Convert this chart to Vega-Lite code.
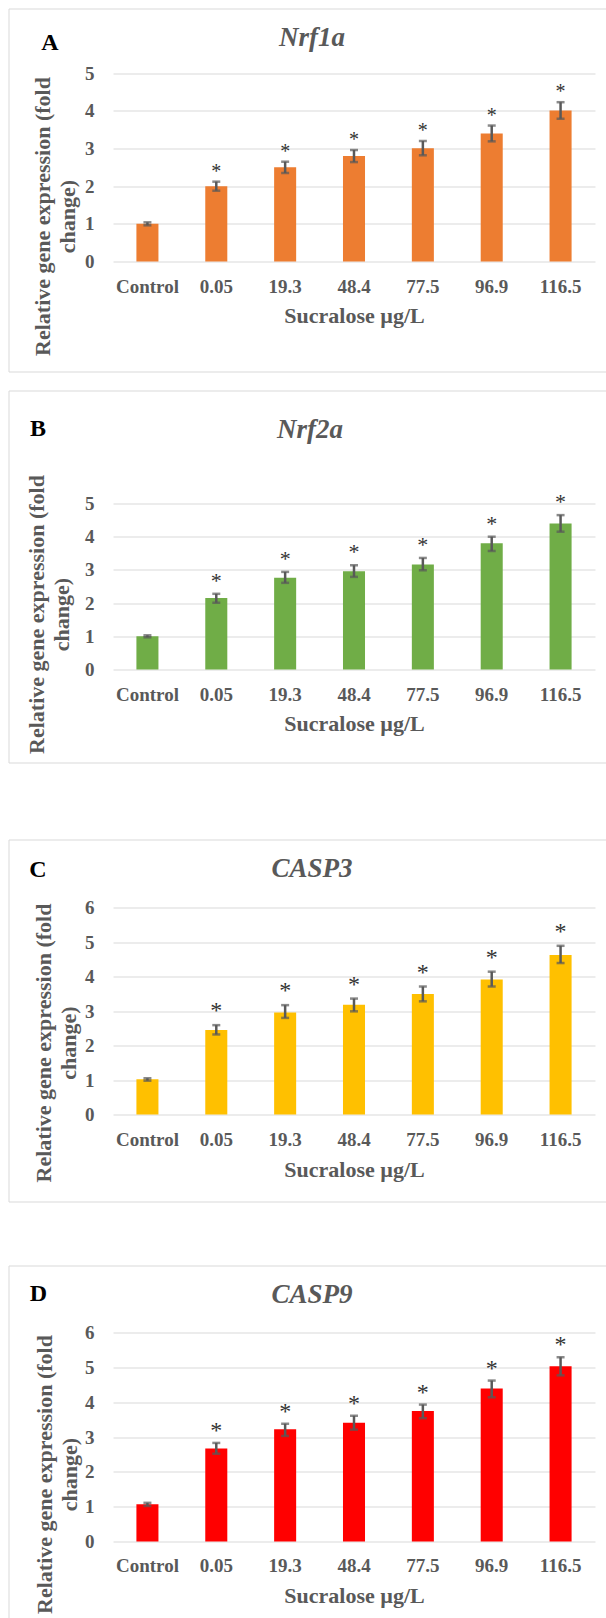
{
  "$schema": "https://vega.github.io/schema/vega-lite/v6.json",
  "background": "white",
  "padding": {"left": 7.5, "top": 7.5, "right": -12.5, "bottom": -14.5},
  "spacing": 75,
  "datasets": {
    "nrf1a": [
      {"conc": "Control", "mean": 1.00, "lo": 0.96, "hi": 1.04, "sig": ""},
      {"conc": "0.05", "mean": 2.00, "lo": 1.88, "hi": 2.12, "sig": "*"},
      {"conc": "19.3", "mean": 2.50, "lo": 2.35, "hi": 2.65, "sig": "*"},
      {"conc": "48.4", "mean": 2.80, "lo": 2.64, "hi": 2.96, "sig": "*"},
      {"conc": "77.5", "mean": 3.01, "lo": 2.82, "hi": 3.20, "sig": "*"},
      {"conc": "96.9", "mean": 3.40, "lo": 3.19, "hi": 3.61, "sig": "*"},
      {"conc": "116.5", "mean": 4.01, "lo": 3.79, "hi": 4.23, "sig": "*"}
    ],
    "nrf2a": [
      {"conc": "Control", "mean": 1.00, "lo": 0.97, "hi": 1.03, "sig": ""},
      {"conc": "0.05", "mean": 2.15, "lo": 2.01, "hi": 2.28, "sig": "*"},
      {"conc": "19.3", "mean": 2.76, "lo": 2.61, "hi": 2.94, "sig": "*"},
      {"conc": "48.4", "mean": 2.96, "lo": 2.79, "hi": 3.14, "sig": "*"},
      {"conc": "77.5", "mean": 3.16, "lo": 2.99, "hi": 3.36, "sig": "*"},
      {"conc": "96.9", "mean": 3.80, "lo": 3.57, "hi": 4.00, "sig": "*"},
      {"conc": "116.5", "mean": 4.40, "lo": 4.15, "hi": 4.65, "sig": "*"}
    ],
    "casp3": [
      {"conc": "Control", "mean": 1.02, "lo": 0.98, "hi": 1.05, "sig": ""},
      {"conc": "0.05", "mean": 2.45, "lo": 2.32, "hi": 2.59, "sig": "*"},
      {"conc": "19.3", "mean": 2.96, "lo": 2.80, "hi": 3.17, "sig": "*"},
      {"conc": "48.4", "mean": 3.18, "lo": 2.99, "hi": 3.36, "sig": "*"},
      {"conc": "77.5", "mean": 3.49, "lo": 3.28, "hi": 3.71, "sig": "*"},
      {"conc": "96.9", "mean": 3.91, "lo": 3.71, "hi": 4.14, "sig": "*"},
      {"conc": "116.5", "mean": 4.62, "lo": 4.39, "hi": 4.89, "sig": "*"}
    ],
    "casp9": [
      {"conc": "Control", "mean": 1.07, "lo": 1.02, "hi": 1.11, "sig": ""},
      {"conc": "0.05", "mean": 2.67, "lo": 2.52, "hi": 2.83, "sig": "*"},
      {"conc": "19.3", "mean": 3.22, "lo": 3.03, "hi": 3.38, "sig": "*"},
      {"conc": "48.4", "mean": 3.41, "lo": 3.21, "hi": 3.61, "sig": "*"},
      {"conc": "77.5", "mean": 3.75, "lo": 3.54, "hi": 3.93, "sig": "*"},
      {"conc": "96.9", "mean": 4.39, "lo": 4.14, "hi": 4.62, "sig": "*"},
      {"conc": "116.5", "mean": 5.03, "lo": 4.77, "hi": 5.29, "sig": "*"}
    ]
  },
  "vconcat": [
    {
      "spacing": 17,
      "vconcat": [
        {
          "width": 610, "height": 363,
          "data": {"name": "nrf1a"},
          "layer": [
            {"mark": {"type": "bar", "color": "#ED7D31"},
             "encoding": {
               "x": {"field": "conc", "type": "nominal", "sort": null, "scale": {"range": [104.5, 586.5], "paddingInner": 0.68, "paddingOuter": 0.34},
                     "axis": {"orient": "bottom", "offset": -110, "title": "Sucralose µg/L", "labelAngle": 0, "labelPadding": 25, "labelBaseline": "middle", "titleY": 54, "titleBaseline": "middle"}},
               "y": {"field": "mean", "type": "quantitative", "scale": {"domain": [0, 5], "range": [253, 64.7], "nice": false},
                     "axis": {"orient": "left", "offset": -104.5, "values": [0, 1, 2, 3, 4, 5], "grid": true, "labelPadding": 19, "title": ["Relative gene expression (fold", "change)"], "titleAngle": 270, "titleAlign": "center", "titleBaseline": "alphabetic", "titleLineHeight": 25, "titleX": -64, "titleY": 207.5}}
             }},
            {"mark": {"type": "rule", "color": "#595959", "strokeWidth": 2.5},
             "encoding": {
               "x": {"field": "conc", "type": "nominal", "sort": null,
                     "axis": {"orient": "top", "labels": false, "grid": false, "title": "Nrf1a", "titleFontSize": 27, "titleFontStyle": "italic", "titleX": 303, "titleY": 29, "titleBaseline": "middle", "titleAlign": "center"}},
               "y": {"field": "lo", "type": "quantitative",
                     "axis": {"orient": "right", "labels": false, "grid": false, "title": "A", "titleFontSize": 24, "titleColor": "#000000", "titleAngle": 0, "titleX": -569, "titleY": 34, "titleBaseline": "middle", "titleAlign": "center"}},
               "y2": {"field": "hi"}
             }},
            {"mark": {"type": "tick", "color": "#595959", "thickness": 2.5, "size": 8},
             "encoding": {"x": {"field": "conc", "type": "nominal", "sort": null, "axis": null},
                          "y": {"field": "lo", "type": "quantitative", "axis": null}}},
            {"mark": {"type": "tick", "color": "#595959", "thickness": 2.5, "size": 8},
             "encoding": {"x": {"field": "conc", "type": "nominal", "sort": null, "axis": null},
                          "y": {"field": "hi", "type": "quantitative", "axis": null}}},
            {"mark": {"type": "text", "font": "Liberation Serif", "fontSize": 20, "color": "#333333", "baseline": "alphabetic", "dy": -4},
             "encoding": {"x": {"field": "conc", "type": "nominal", "sort": null, "axis": null},
                          "y": {"field": "hi", "type": "quantitative", "axis": null},
                          "text": {"field": "sig"}}}
          ],
          "resolve": {"axis": {"x": "independent", "y": "independent"}}
        },
        {
          "width": 610, "height": 372,
          "data": {"name": "nrf2a"},
          "layer": [
            {"mark": {"type": "bar", "color": "#70AD47"},
             "encoding": {
               "x": {"field": "conc", "type": "nominal", "sort": null, "scale": {"range": [104.5, 586.5], "paddingInner": 0.68, "paddingOuter": 0.34},
                     "axis": {"orient": "bottom", "offset": -93, "title": "Sucralose µg/L", "labelAngle": 0, "labelPadding": 25, "labelBaseline": "middle", "titleY": 54, "titleBaseline": "middle"}},
               "y": {"field": "mean", "type": "quantitative", "scale": {"domain": [0, 5], "range": [279, 113], "nice": false},
                     "axis": {"orient": "left", "offset": -104.5, "values": [0, 1, 2, 3, 4, 5], "grid": true, "labelPadding": 19, "title": ["Relative gene expression (fold", "change)"], "titleAngle": 270, "titleAlign": "center", "titleBaseline": "alphabetic", "titleLineHeight": 25, "titleX": -70, "titleY": 223.5}}
             }},
            {"mark": {"type": "rule", "color": "#595959", "strokeWidth": 2.5},
             "encoding": {
               "x": {"field": "conc", "type": "nominal", "sort": null,
                     "axis": {"orient": "top", "labels": false, "grid": false, "title": "Nrf2a", "titleFontSize": 27, "titleFontStyle": "italic", "titleX": 301, "titleY": 39, "titleBaseline": "middle", "titleAlign": "center"}},
               "y": {"field": "lo", "type": "quantitative",
                     "axis": {"orient": "right", "labels": false, "grid": false, "title": "B", "titleFontSize": 24, "titleColor": "#000000", "titleAngle": 0, "titleX": -581, "titleY": 38, "titleBaseline": "middle", "titleAlign": "center"}},
               "y2": {"field": "hi"}
             }},
            {"mark": {"type": "tick", "color": "#595959", "thickness": 2.5, "size": 8},
             "encoding": {"x": {"field": "conc", "type": "nominal", "sort": null, "axis": null},
                          "y": {"field": "lo", "type": "quantitative", "axis": null}}},
            {"mark": {"type": "tick", "color": "#595959", "thickness": 2.5, "size": 8},
             "encoding": {"x": {"field": "conc", "type": "nominal", "sort": null, "axis": null},
                          "y": {"field": "hi", "type": "quantitative", "axis": null}}},
            {"mark": {"type": "text", "font": "Liberation Serif", "fontSize": 22, "color": "#333333", "baseline": "alphabetic", "dy": -6},
             "encoding": {"x": {"field": "conc", "type": "nominal", "sort": null, "axis": null},
                          "y": {"field": "hi", "type": "quantitative", "axis": null},
                          "text": {"field": "sig"}}}
          ],
          "resolve": {"axis": {"x": "independent", "y": "independent"}}
        }
      ]
    },
    {
      "spacing": 62,
      "vconcat": [
        {
          "width": 610, "height": 362,
          "data": {"name": "casp3"},
          "layer": [
            {"mark": {"type": "bar", "color": "#FFC000"},
             "encoding": {
               "x": {"field": "conc", "type": "nominal", "sort": null, "scale": {"range": [104.5, 586.5], "paddingInner": 0.68, "paddingOuter": 0.34},
                     "axis": {"orient": "bottom", "offset": -87, "title": "Sucralose µg/L", "labelAngle": 0, "labelPadding": 25, "labelBaseline": "middle", "titleY": 55, "titleBaseline": "middle"}},
               "y": {"field": "mean", "type": "quantitative", "scale": {"domain": [0, 6], "range": [275, 68], "nice": false},
                     "axis": {"orient": "left", "offset": -104.5, "values": [0, 1, 2, 3, 4, 5, 6], "grid": true, "labelPadding": 19, "title": ["Relative gene expression (fold", "change)"], "titleAngle": 270, "titleAlign": "center", "titleBaseline": "alphabetic", "titleLineHeight": 25, "titleX": -63, "titleY": 203}}
             }},
            {"mark": {"type": "rule", "color": "#595959", "strokeWidth": 2.5},
             "encoding": {
               "x": {"field": "conc", "type": "nominal", "sort": null,
                     "axis": {"orient": "top", "labels": false, "grid": false, "title": "CASP3", "titleFontSize": 27, "titleFontStyle": "italic", "titleX": 303, "titleY": 29, "titleBaseline": "middle", "titleAlign": "center"}},
               "y": {"field": "lo", "type": "quantitative",
                     "axis": {"orient": "right", "labels": false, "grid": false, "title": "C", "titleFontSize": 24, "titleColor": "#000000", "titleAngle": 0, "titleX": -581, "titleY": 30, "titleBaseline": "middle", "titleAlign": "center"}},
               "y2": {"field": "hi"}
             }},
            {"mark": {"type": "tick", "color": "#595959", "thickness": 2.5, "size": 8},
             "encoding": {"x": {"field": "conc", "type": "nominal", "sort": null, "axis": null},
                          "y": {"field": "lo", "type": "quantitative", "axis": null}}},
            {"mark": {"type": "tick", "color": "#595959", "thickness": 2.5, "size": 8},
             "encoding": {"x": {"field": "conc", "type": "nominal", "sort": null, "axis": null},
                          "y": {"field": "hi", "type": "quantitative", "axis": null}}},
            {"mark": {"type": "text", "font": "Liberation Serif", "fontSize": 24, "color": "#333333", "baseline": "alphabetic", "dy": -7},
             "encoding": {"x": {"field": "conc", "type": "nominal", "sort": null, "axis": null},
                          "y": {"field": "hi", "type": "quantitative", "axis": null},
                          "text": {"field": "sig"}}}
          ],
          "resolve": {"axis": {"x": "independent", "y": "independent"}}
        },
        {
          "width": 610, "height": 370,
          "data": {"name": "casp9"},
          "layer": [
            {"mark": {"type": "bar", "color": "#FF0000"},
             "encoding": {
               "x": {"field": "conc", "type": "nominal", "sort": null, "scale": {"range": [104.5, 586.5], "paddingInner": 0.68, "paddingOuter": 0.34},
                     "axis": {"orient": "bottom", "offset": -94, "title": "Sucralose µg/L", "labelAngle": 0, "labelPadding": 24, "labelBaseline": "middle", "titleY": 54, "titleBaseline": "middle"}},
               "y": {"field": "mean", "type": "quantitative", "scale": {"domain": [0, 6], "range": [276, 67], "nice": false},
                     "axis": {"orient": "left", "offset": -104.5, "values": [0, 1, 2, 3, 4, 5, 6], "grid": true, "labelPadding": 19, "title": ["Relative gene expression (fold", "change)"], "titleAngle": 270, "titleAlign": "center", "titleBaseline": "alphabetic", "titleLineHeight": 25, "titleX": -62, "titleY": 208.5}}
             }},
            {"mark": {"type": "rule", "color": "#595959", "strokeWidth": 2.5},
             "encoding": {
               "x": {"field": "conc", "type": "nominal", "sort": null,
                     "axis": {"orient": "top", "labels": false, "grid": false, "title": "CASP9", "titleFontSize": 27, "titleFontStyle": "italic", "titleX": 303, "titleY": 29, "titleBaseline": "middle", "titleAlign": "center"}},
               "y": {"field": "lo", "type": "quantitative",
                     "axis": {"orient": "right", "labels": false, "grid": false, "title": "D", "titleFontSize": 24, "titleColor": "#000000", "titleAngle": 0, "titleX": -580.5, "titleY": 28, "titleBaseline": "middle", "titleAlign": "center"}},
               "y2": {"field": "hi"}
             }},
            {"mark": {"type": "tick", "color": "#595959", "thickness": 2.5, "size": 8},
             "encoding": {"x": {"field": "conc", "type": "nominal", "sort": null, "axis": null},
                          "y": {"field": "lo", "type": "quantitative", "axis": null}}},
            {"mark": {"type": "tick", "color": "#595959", "thickness": 2.5, "size": 8},
             "encoding": {"x": {"field": "conc", "type": "nominal", "sort": null, "axis": null},
                          "y": {"field": "hi", "type": "quantitative", "axis": null}}},
            {"mark": {"type": "text", "font": "Liberation Serif", "fontSize": 24, "color": "#333333", "baseline": "alphabetic", "dy": -5},
             "encoding": {"x": {"field": "conc", "type": "nominal", "sort": null, "axis": null},
                          "y": {"field": "hi", "type": "quantitative", "axis": null},
                          "text": {"field": "sig"}}}
          ],
          "resolve": {"axis": {"x": "independent", "y": "independent"}}
        }
      ]
    }
  ],
  "config": {
    "view": {"stroke": "#D9D9D9", "strokeWidth": 1},
    "axis": {
      "labelFont": "Liberation Serif", "titleFont": "Liberation Serif",
      "labelFontWeight": "bold", "titleFontWeight": "bold",
      "labelColor": "#595959", "titleColor": "#595959",
      "labelFontSize": 19, "titleFontSize": 22,
      "ticks": false, "tickSize": 0, "domain": false,
      "gridColor": "#D9D9D9", "gridWidth": 1
    },
    "axisX": {"grid": false}
  }
}
